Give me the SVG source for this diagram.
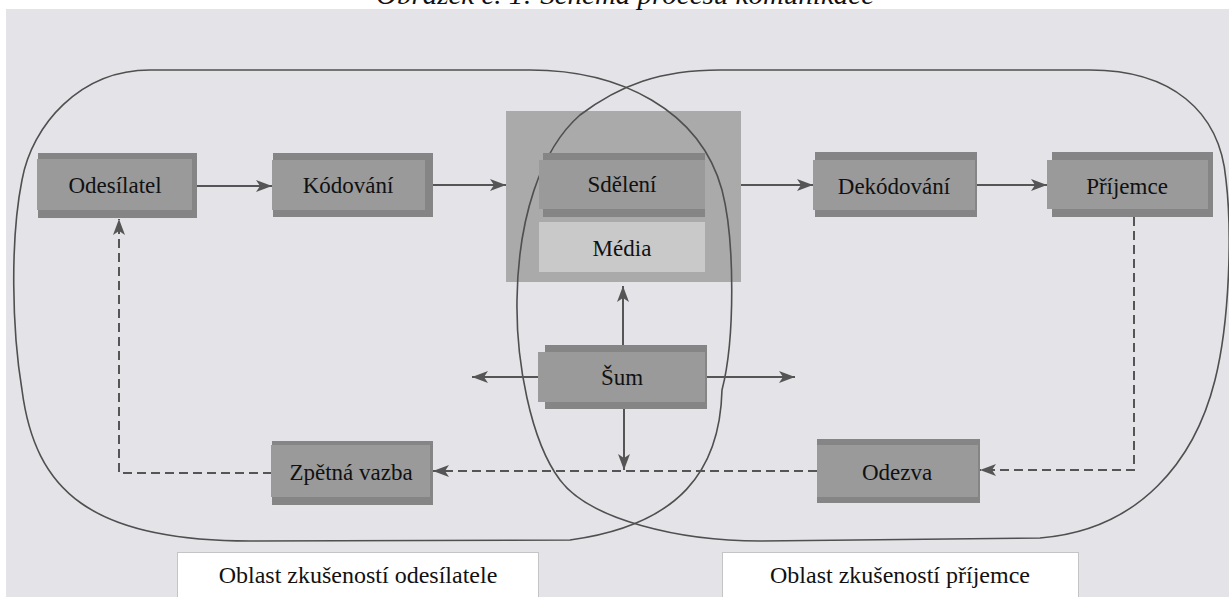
<svg xmlns="http://www.w3.org/2000/svg" width="1229" height="597" viewBox="0 0 1229 597">
<defs>
<style>
.bg{fill:#e4e4e8}
.area{fill:none;stroke:#4f4f4f;stroke-width:1.6}
.back{fill:#858585}
.front{fill:#9a9a9a}
.cont{fill:#aaaaaa}
.media{fill:#c9c9c9}
.lbl{fill:#ffffff;stroke:#c4c4c4;stroke-width:1}
.t{font-family:"Liberation Serif","Times New Roman",serif;font-size:23px;fill:#111;text-anchor:middle}
.tl{font-size:24px}
.c{fill:none;stroke:#555;stroke-width:2}
.d{stroke-dasharray:9 5}
.title{font-family:"Liberation Serif","Times New Roman",serif;font-style:italic;font-size:27px;fill:#111;text-anchor:middle}
</style>
<marker id="ah" markerUnits="userSpaceOnUse" markerWidth="16" markerHeight="12" refX="16" refY="6" orient="auto" viewBox="0 0 16 12"><path d="M0,0 L16,6 L0,12 L4,6 Z" fill="#555"/></marker>
</defs>
<rect x="0" y="0" width="1229" height="597" fill="#ffffff"/>
<rect class="bg" x="6" y="9" width="1223" height="588"/>
<text class="title" x="625" y="4" textLength="498" lengthAdjust="spacingAndGlyphs">Obrázek č. 1: Schéma procesu komunikace</text>

<g id="medium">
<rect class="cont" x="506" y="111" width="235" height="171"/>
</g>

<g id="areas">
<path id="area-sender" class="area" d="M150,70 L530,70 C620,70 700,110 722,190 C735,240 735,340 722,390 C720,470 680,525 570,540 L250,541 C90,541 35,490 22,390 C12,330 10,240 22,180 C32,125 80,70 150,70 Z"/>
<path id="area-receiver" class="area" d="M720,70 L1090,70 C1170,70 1220,110 1226,180 C1232,230 1230,320 1215,380 C1195,460 1140,530 1040,538 L760,541 C680,541 590,520 560,480 C530,440 516,360 517,300 C518,220 540,150 580,115 C620,85 660,70 720,70 Z"/>
</g>

<g id="connectors">
<line class="c" x1="197" y1="186" x2="272" y2="186" marker-end="url(#ah)"/>
<line class="c" x1="433" y1="185" x2="506" y2="185" marker-end="url(#ah)"/>
<line class="c" x1="741" y1="185" x2="813" y2="185" marker-end="url(#ah)"/>
<line class="c" x1="977" y1="185" x2="1047" y2="185" marker-end="url(#ah)"/>
<path class="c d" d="M1134,217 V470 H980" marker-end="url(#ah)"/>
<path class="c d" d="M817,471 H433" marker-end="url(#ah)"/>
<path class="c d" d="M272,473 H119 V219" marker-end="url(#ah)"/>
<line class="c" x1="623" y1="345" x2="623" y2="286" marker-end="url(#ah)"/>
<line class="c" x1="624" y1="409" x2="624" y2="470" marker-end="url(#ah)"/>
<line class="c" x1="538" y1="377" x2="472" y2="377" marker-end="url(#ah)"/>
<line class="c" x1="705" y1="377" x2="795" y2="377" marker-end="url(#ah)"/>
</g>

<g id="odesilatel">
<rect class="back" x="38" y="153" width="159" height="65"/>
<rect class="front" x="37" y="159" width="155" height="51"/>
<text class="t" x="115" y="193">Odesílatel</text>
</g>
<g id="kodovani">
<rect class="back" x="273" y="153" width="160" height="64"/>
<rect class="front" x="272" y="160" width="153" height="50"/>
<text class="t" x="348" y="193">Kódování</text>
</g>
<g id="sdeleni">
<rect class="back" x="543" y="153" width="162" height="64"/>
<rect class="front" x="539" y="160" width="166" height="49"/>
<text class="t" x="622" y="192">Sdělení</text>
</g>
<g id="media">
<rect class="media" x="539" y="222" width="166" height="50"/>
<text class="t" x="622" y="256">Média</text>
</g>
<g id="dekodovani">
<rect class="back" x="815" y="152" width="162" height="65"/>
<rect class="front" x="813" y="160" width="162" height="50"/>
<text class="t" x="894" y="194">Dekódování</text>
</g>
<g id="prijemce">
<rect class="back" x="1052" y="152" width="161" height="65"/>
<rect class="front" x="1047" y="160" width="161" height="49"/>
<text class="t" x="1127" y="194">Příjemce</text>
</g>
<g id="sum">
<rect class="back" x="545" y="345" width="162" height="64"/>
<rect class="front" x="538" y="352" width="167" height="50"/>
<text class="t" x="622" y="385">Šum</text>
</g>
<g id="zpetna-vazba">
<rect class="back" x="272" y="441" width="161" height="64"/>
<rect class="front" x="271" y="445" width="159" height="52"/>
<text class="t" x="351" y="480">Zpětná vazba</text>
</g>
<g id="odezva">
<rect class="back" x="817" y="439" width="163" height="64"/>
<rect class="front" x="817" y="445" width="161" height="52"/>
<text class="t" x="897" y="480">Odezva</text>
</g>
<g id="label-sender">
<rect class="lbl" x="177.5" y="552.5" width="361" height="50"/>
<text class="t tl" x="358" y="583">Oblast zkušeností odesílatele</text>
</g>
<g id="label-receiver">
<rect class="lbl" x="722.5" y="552.5" width="356" height="50"/>
<text class="t tl" x="900" y="583">Oblast zkušeností příjemce</text>
</g>
</svg>
